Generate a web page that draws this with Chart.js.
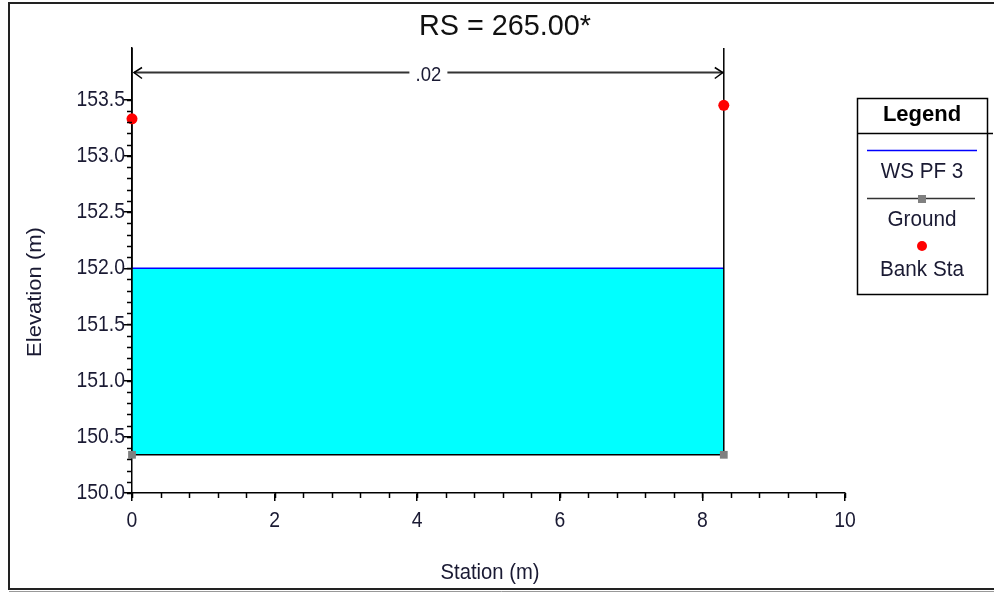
<!DOCTYPE html>
<html>
<head>
<meta charset="utf-8">
<script src="https://cdn.jsdelivr.net/npm/chart.js@4.4.0/dist/chart.umd.min.js"></script>
<style>
html,body{margin:0;padding:0;background:#fff;}
canvas{display:block;}
</style>
</head>
<body>
<canvas id="c" width="994" height="592"></canvas>
<script>
// ---- data ----
const TITLE = 'RS = 265.00*';
const X_TITLE = 'Station (m)';
const Y_TITLE = 'Elevation (m)';
const WS_NAME = 'WS PF 3';
const GROUND_NAME = 'Ground';
const BANK_NAME = 'Bank Sta';
const ground_station = [0, 0, 8.3, 8.3];
const ground_elev = [154.0, 150.34, 150.34, 154.0];
const ws_station = [0, 8.3];
const ws_elev = [152.0, 152.0];
const bank_station = [0, 8.3];
const bank_elev = [153.33, 153.45];
const n_label = '.02';
const n_from = 0, n_to = 8.3, n_elev = 153.75;
const X_MIN = 0, X_MAX = 10, X_STEP = 2, X_MINOR = 0.4;
const Y_MIN = 150, Y_MAX = 153.96, Y_STEP = 0.5, Y_MINOR = 0.1, Y_MINOR_TOP = 153.5;

const FONT = '"Liberation Sans",Arial,sans-serif';
const TXT = '#1a1a33';
const SX = 0.88; // horizontal condensing of text

const pts = (xs, ys) => xs.map((x, i) => ({x, y: ys[i]}));

function txt(c, s, x, y, size, opts = {}) {
  c.save();
  c.font = (opts.bold ? 'bold ' : '') + size + 'px ' + FONT;
  c.fillStyle = opts.color || TXT;
  c.textAlign = opts.align || 'center';
  c.textBaseline = 'middle';
  c.translate(x, y);
  if (opts.rot) c.rotate(opts.rot);
  c.scale(opts.sx || SX, 1);
  c.fillText(s, 0, 0);
  c.restore();
}

const extras = {
  id: 'extras',
  beforeDraw(chart) {
    const c = chart.ctx;
    c.save();
    c.fillStyle = '#fff';
    c.fillRect(0, 0, chart.width, chart.height);
    c.restore();
  },
  afterDraw(chart) {
    const c = chart.ctx;
    const xs = chart.scales.x, ys = chart.scales.y;
    const xb = chart.chartArea.bottom, yl = chart.chartArea.left;
    c.save();
    // tick labels from the library's scales
    xs.ticks.forEach((t, i) => {
      txt(c, String(t.value), xs.getPixelForTick(i), xb + 28, 22);
    });
    ys.ticks.forEach((t, i) => {
      txt(c, Number(t.value).toFixed(1), yl - 7, ys.getPixelForTick(i), 22, {align: 'right'});
    });
    // minor ticks
    c.strokeStyle = '#000';
    c.lineWidth = 1.5;
    for (let k = 0; X_MIN + k * X_MINOR <= X_MAX + 1e-9; k++) {
      const px = Math.round(xs.getPixelForValue(X_MIN + k * X_MINOR)) + 0.5;
      c.beginPath(); c.moveTo(px, xb); c.lineTo(px, xb + 5); c.stroke();
    }
    for (let k = 0; Y_MIN + k * Y_MINOR <= Y_MINOR_TOP + 1e-9; k++) {
      const py = Math.round(ys.getPixelForValue(Y_MIN + k * Y_MINOR)) + 0.5;
      c.beginPath(); c.moveTo(yl, py); c.lineTo(yl - 5, py); c.stroke();
    }
    // n-value arrow
    const ay = Math.round(ys.getPixelForValue(n_elev)) + 0.5;
    const ax1 = xs.getPixelForValue(n_from) + 2, ax2 = xs.getPixelForValue(n_to) - 1;
    const mid = (ax1 + ax2) / 2;
    const tw = 38;
    c.strokeStyle = '#333'; c.lineWidth = 2;
    c.beginPath();
    c.moveTo(ax1, ay); c.lineTo(mid - tw / 2, ay);
    c.moveTo(mid + tw / 2, ay); c.lineTo(ax2, ay);
    c.stroke();
    c.strokeStyle = '#000'; c.lineWidth = 1.5;
    c.beginPath();
    c.moveTo(ax1 + 8, ay - 5); c.lineTo(ax1, ay); c.lineTo(ax1 + 8, ay + 6);
    c.moveTo(ax2 - 8, ay - 5); c.lineTo(ax2, ay); c.lineTo(ax2 - 8, ay + 6);
    c.stroke();
    txt(c, n_label, mid, ay + 3, 21);
    // title
    txt(c, TITLE, 505, 27, 30, {color: '#111', sx: 0.96});
    // axis titles
    txt(c, X_TITLE, 490, 573, 22, {sx: 0.92});
    txt(c, Y_TITLE, 35, 292, 21, {rot: -Math.PI / 2, sx: 1.05});
    // legend
    c.strokeStyle = '#000'; c.lineWidth = 1.5;
    c.strokeRect(857.5, 98.5, 130, 196);
    c.beginPath(); c.moveTo(857, 133.5); c.lineTo(993, 133.5); c.stroke();
    txt(c, 'Legend', 922, 115, 22, {bold: true, color: '#000', sx: 1.0});
    c.strokeStyle = '#0000ff'; c.lineWidth = 1.5;
    c.beginPath(); c.moveTo(867, 150.5); c.lineTo(977, 150.5); c.stroke();
    txt(c, WS_NAME, 922, 172, 22, {sx: 0.94});
    c.strokeStyle = '#333';
    c.beginPath(); c.moveTo(867, 198.5); c.lineTo(975, 198.5); c.stroke();
    c.fillStyle = '#808080';
    c.fillRect(918, 195, 8, 8);
    txt(c, GROUND_NAME, 922, 220, 22, {sx: 0.94});
    c.fillStyle = '#ff0000';
    c.beginPath(); c.arc(922, 246, 5, 0, Math.PI * 2); c.fill();
    txt(c, BANK_NAME, 922, 270, 22, {sx: 0.94});
    // outer frame
    c.strokeStyle = '#222'; c.lineWidth = 2;
    c.beginPath();
    c.moveTo(994, 3); c.lineTo(9, 3); c.lineTo(9, 589); c.lineTo(994, 589);
    c.stroke();
    c.strokeStyle = '#999'; c.lineWidth = 1;
    c.beginPath(); c.moveTo(9, 591.5); c.lineTo(994, 591.5); c.stroke();
    c.restore();
  }
};

new Chart(document.getElementById('c'), {
  type: 'scatter',
  data: {
    datasets: [
      {
        label: BANK_NAME,
        data: pts(bank_station, bank_elev),
        showLine: false,
        pointStyle: 'circle',
        pointRadius: 5.5,
        pointBackgroundColor: '#ff0000',
        pointBorderColor: '#ff0000',
        pointBorderWidth: 0,
        clip: false,
        order: 0
      },
      {
        label: GROUND_NAME,
        data: pts(ground_station, ground_elev),
        showLine: true,
        borderColor: '#000',
        borderWidth: 1.5,
        pointStyle: 'rect',
        pointRadius: ctx => (ctx.raw && ctx.raw.y < Y_MAX ? 5.5 : 0),
        pointBackgroundColor: '#808080',
        pointBorderColor: '#808080',
        pointBorderWidth: 0,
        clip: {left: 10, right: 10, top: 0, bottom: 10},
        order: 1
      },
      {
        label: WS_NAME,
        data: pts(ws_station, ws_elev),
        showLine: true,
        borderColor: '#0000ff',
        borderWidth: 1.5,
        backgroundColor: '#00ffff',
        fill: {value: Math.min(...ground_elev)},
        pointRadius: 0,
        order: 2
      }
    ]
  },
  options: {
    responsive: false,
    animation: false,
    events: [],
    layout: {padding: {left: 10, right: 149, top: 48, bottom: 0}},
    plugins: {legend: {display: false}, title: {display: false}, tooltip: {enabled: false}},
    scales: {
      x: {
        type: 'linear', min: X_MIN, max: X_MAX,
        ticks: {stepSize: X_STEP, includeBounds: false, display: false},
        grid: {drawOnChartArea: false, drawTicks: true, tickLength: 8, color: '#000', lineWidth: 1.5},
        border: {display: true, color: '#000', width: 1.5},
        afterFit: s => { s.height = 99; }
      },
      y: {
        type: 'linear', min: Y_MIN, max: Y_MAX,
        ticks: {stepSize: Y_STEP, includeBounds: false, display: false},
        grid: {drawOnChartArea: false, drawTicks: true, tickLength: 8, color: '#000', lineWidth: 1.5},
        border: {display: true, color: '#000', width: 1.5},
        afterFit: s => { s.width = 122; }
      }
    }
  },
  plugins: [extras]
});
</script>
</body>
</html>
